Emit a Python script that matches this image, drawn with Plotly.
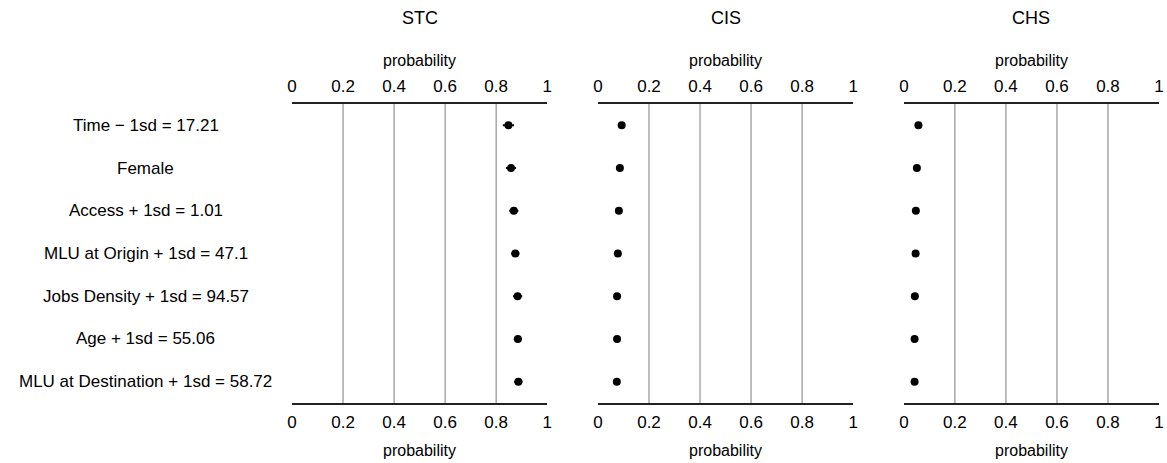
import plotly.graph_objects as go

# Predicted probabilities for each scenario, by outcome
scenarios = [
    "Time \u2212 1sd = 17.21",
    "Female",
    "Access + 1sd = 1.01",
    "MLU at Origin + 1sd = 47.1",
    "Jobs Density + 1sd = 94.57",
    "Age + 1sd = 55.06",
    "MLU at Destination + 1sd = 58.72",
]
outcomes = ["STC", "CIS", "CHS"]
prob_stc = [0.848, 0.858, 0.869, 0.875, 0.884, 0.885, 0.887]
prob_cis = [0.093, 0.086, 0.082, 0.078, 0.075, 0.075, 0.074]
prob_chs = [0.057, 0.051, 0.047, 0.046, 0.043, 0.042, 0.042]
err_stc = [0.022, 0.020, 0.018, 0.016, 0.018, 0.016, 0.016]
err_cis = [0.006, 0.006, 0.006, 0.006, 0.006, 0.006, 0.006]
err_chs = [0.005, 0.005, 0.005, 0.005, 0.005, 0.005, 0.005]
tick_vals = [0, 0.2, 0.4, 0.6, 0.8, 1]
tick_text = ["0", "0.2", "0.4", "0.6", "0.8", "1"]
grid_vals = [0.2, 0.4, 0.6, 0.8]

probs = [prob_stc, prob_cis, prob_chs]
errs = [err_stc, err_cis, err_chs]

FONT = "Liberation Sans, Arial, sans-serif"
W, H = 1167, 463
ML, MR, MT, MB = 292, 3, 104, 60
plot_w = W - ML - MR
panel_px = 256.7
gap_px = 51
domains = []
for i in range(3):
    a = i * (panel_px + gap_px)
    domains.append([a / plot_w, min(1.0, (a + panel_px) / plot_w)])

fig = go.Figure()
rows = list(range(len(scenarios)))

for i, (p, e) in enumerate(zip(probs, errs)):
    xa = "x" if i == 0 else f"x{i + 1}"
    ya = "y" if i == 0 else f"y{i + 1}"
    fig.add_trace(go.Scatter(
        x=p, y=rows, mode="markers",
        marker=dict(color="black", size=8),
        error_x=dict(type="data", array=e, color="black", thickness=2, width=0),
        xaxis=xa, yaxis=ya, showlegend=False, hoverinfo="x",
    ))
    # same points on the top axis so that axis gets drawn
    fig.add_trace(go.Scatter(
        x=p, y=rows, mode="markers", marker=dict(opacity=0),
        xaxis=f"x{i + 4}", yaxis=ya, showlegend=False, hoverinfo="skip",
    ))

axis_common = dict(
    range=[0, 1], tickvals=tick_vals, ticktext=tick_text,
    showgrid=False, zeroline=False, showline=True,
    linecolor="#222222", linewidth=1.5, ticks="",
    tickfont=dict(family=FONT, size=17, color="black"),
    ticklabelstandoff=3,
)

layout = dict(
    width=W, height=H,
    margin=dict(l=ML, r=MR, t=MT, b=MB),
    paper_bgcolor="white", plot_bgcolor="white",
    font=dict(family=FONT, size=16, color="black"),
    showlegend=False,
)

for i in range(3):
    k = "" if i == 0 else str(i + 1)
    # bottom axis
    layout[f"xaxis{k}"] = dict(axis_common, domain=domains[i], anchor=f"y{k}", side="bottom")
    layout[f"yaxis{k}"] = dict(
        domain=[0, 1], anchor=f"x{k}", range=[6.5, -0.5],
        showticklabels=False, showgrid=False, zeroline=False, showline=False,
        ticks="",
    )
    # top axis overlaying the bottom one
    top_idx = i + 4
    layout[f"xaxis{top_idx}"] = dict(
        axis_common, overlaying=f"x{k}", matches=f"x{k}",
        anchor=f"y{k}", side="top",
    )

fig.update_layout(**layout)

# Vertical reference lines at interior ticks
for i in range(3):
    k = "" if i == 0 else str(i + 1)
    for g in grid_vals:
        fig.add_shape(type="line", xref=f"x{k}", yref=f"y{k} domain",
                      x0=g, x1=g, y0=0, y1=1,
                      line=dict(color="#9a9a9a", width=1.3), layer="below")

plot_h = H - MT - MB

def py(pix):
    return (H - MB - pix) / plot_h

for i, name in enumerate(outcomes):
    k = "" if i == 0 else str(i + 1)
    fig.add_annotation(text=name, xref=f"x{k} domain", x=0.5, yref="paper", y=py(18),
                       yanchor="middle", showarrow=False, font=dict(family=FONT, size=18))
    fig.add_annotation(text="probability", xref=f"x{k} domain", x=0.5, yref="paper", y=py(60),
                       yanchor="middle", showarrow=False, font=dict(family=FONT, size=16))
    fig.add_annotation(text="probability", xref=f"x{k} domain", x=0.5, yref="paper", y=py(450),
                       yanchor="middle", showarrow=False, font=dict(family=FONT, size=16))

label_cx = (145 - ML) / plot_w
for r, s in zip(rows, scenarios):
    fig.add_annotation(text=s, xref="paper", x=label_cx, xanchor="center",
                       yref="y", y=r, yanchor="middle", showarrow=False,
                       font=dict(family=FONT, size=17))

fig.write_html("out.html")
